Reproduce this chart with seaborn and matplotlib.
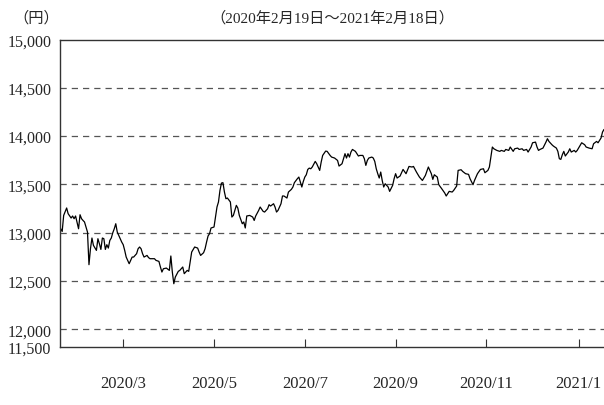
import pandas as pd
import seaborn as sns
import matplotlib.pyplot as plt

# 基準価額の推移 (2020/2/19 - 2021/2/18)
start = pd.Timestamp("2020-02-19")

day_offsets = [
    0, 1, 2, 4, 5, 7, 8, 9, 10, 12, 13, 14, 15, 16, 17, 18, 19, 20, 21, 22,
    24, 25, 26, 27, 28, 29, 30, 31, 32, 33, 34, 35, 36, 37, 38, 40, 41, 42, 43, 44,
    46, 47, 48, 49, 51, 52, 53, 54, 55, 56, 58, 59, 60, 63, 64, 66, 67, 68, 69, 71,
    73, 74, 75, 76, 77, 79, 80, 82, 83, 85, 86, 87, 88, 90, 92, 93, 94, 96, 97, 98,
    99, 100, 101, 103, 104, 105, 106, 107, 108, 109, 110, 111, 112, 114, 115, 116, 117, 118, 119, 120,
    122, 123, 124, 125, 127, 129, 130, 131, 133, 134, 136, 137, 139, 140, 141, 143, 144, 145, 146, 148,
    149, 150, 152, 153, 155, 156, 157, 159, 160, 161, 162, 163, 164, 165, 166, 167, 168, 169, 171, 172,
    173, 174, 175, 176, 178, 179, 181, 182, 184, 186, 187, 189, 190, 191, 192, 193, 194, 195, 196, 198,
    199, 200, 201, 203, 204, 205, 206, 207, 209, 210, 211, 212, 213, 214, 215, 216, 217, 218, 219, 220,
    221, 223, 224, 225, 226, 227, 228, 230, 232, 234, 236, 237, 239, 241, 243, 245, 247, 249, 250, 251,
    253, 254, 256, 258, 259, 261, 263, 264, 266, 267, 269, 270, 272, 274, 275, 277, 278, 280, 282, 284,
    285, 287, 288, 289, 290, 291, 293, 295, 296, 298, 299, 301, 302, 304, 305, 307, 308, 310, 311, 313,
    314, 316, 317, 319, 320, 321, 322, 324, 326, 327, 328, 330, 331, 333, 334, 335, 336, 337, 338, 339,
    341, 342, 343, 345, 346, 347, 349, 350, 352, 353, 355, 357, 358, 360, 361, 363, 364, 365,
]

nav = [
    13041, 13013, 13179, 13256, 13197, 13152, 13173, 13145, 13173, 13041, 13186, 13145, 13127, 13111, 13059, 13007, 12669, 12834, 12945, 12869,
    12817, 12938, 12886, 12827, 12945, 12938, 12827, 12876, 12841, 12920, 12945, 13000, 13041, 13093, 13007, 12938, 12903, 12876, 12817, 12748,
    12679, 12714, 12748, 12748, 12783, 12834, 12852, 12834, 12783, 12748, 12765, 12743, 12731, 12731, 12714, 12703, 12645, 12593, 12627, 12634,
    12610, 12759, 12593, 12472, 12541, 12600, 12610, 12645, 12576, 12610, 12600, 12697, 12800, 12852, 12841, 12800, 12765, 12793, 12834, 12903,
    12966, 12990, 13049, 13059, 13162, 13266, 13318, 13438, 13514, 13518, 13421, 13352, 13359, 13318, 13162, 13179, 13231, 13283, 13255, 13179,
    13093, 13111, 13049, 13173, 13179, 13162, 13127, 13173, 13231, 13266, 13221, 13214, 13248, 13290, 13276, 13300, 13266, 13214, 13231, 13300,
    13380, 13380, 13359, 13421, 13449, 13473, 13518, 13559, 13576, 13525, 13473, 13531, 13576, 13600, 13655, 13669, 13662, 13680, 13738, 13714,
    13680, 13645, 13731, 13800, 13845, 13842, 13800, 13783, 13773, 13748, 13690, 13714, 13766, 13818, 13773, 13818, 13783, 13835, 13862, 13842,
    13818, 13794, 13800, 13800, 13766, 13697, 13748, 13773, 13783, 13773, 13738, 13662, 13611, 13566, 13628, 13541, 13473, 13507, 13490, 13473,
    13428, 13490, 13559, 13611, 13566, 13576, 13587, 13655, 13611, 13686, 13680, 13686, 13628, 13576, 13541, 13593, 13680, 13611, 13552, 13600,
    13576, 13497, 13455, 13411, 13380, 13428, 13421, 13438, 13483, 13645, 13652, 13635, 13611, 13604, 13559, 13497, 13541, 13611, 13655, 13662,
    13621, 13645, 13680, 13783, 13887, 13869, 13852, 13842, 13852, 13842, 13862, 13852, 13887, 13842, 13869, 13876, 13862, 13869, 13852, 13862,
    13835, 13887, 13931, 13938, 13887, 13852, 13862, 13876, 13938, 13973, 13945, 13911, 13897, 13876, 13842, 13766, 13759, 13807, 13842, 13794,
    13835, 13869, 13835, 13852, 13835, 13852, 13904, 13931, 13911, 13887, 13876, 13869, 13921, 13945, 13931, 13980, 14042, 14069,
]

tick_dates = ["2020-04-01", "2020-06-01", "2020-08-01", "2020-10-01", "2020-12-01", "2021-02-01"]
tick_labels = ["2020/3", "2020/5", "2020/7", "2020/9", "2020/11", "2021/1"]

grid_levels = [12000, 12500, 13000, 13500, 14000, 14500]
# the reference has a shortened axis: its bottom label reads 11,500
y_ticks = [11817, 12000, 12500, 13000, 13500, 14000, 14500, 15000]
y_labels = ["11,500", "12,000", "12,500", "13,000", "13,500", "14,000", "14,500", "15,000"]

sns.set_theme(style="white")
plt.rcParams["font.family"] = ["Liberation Serif", "Noto Sans CJK JP"]

df = pd.DataFrame({"date": start + pd.to_timedelta(day_offsets, unit="D"), "nav": nav})

fig = plt.figure(figsize=(6.04, 4.06), dpi=100)
ax = fig.add_axes([59.5 / 604, 1 - 348 / 406, (604 - 59.5) / 604, (348 - 40.5) / 406])

for lv in grid_levels:
    ax.axhline(lv, color="#555555", lw=0.9, ls=(0, (5, 4)), zorder=0)

sns.lineplot(data=df, x="date", y="nav", color="black", lw=0.9, estimator=None, ax=ax)

ax.set_xlim(start - pd.Timedelta(days=0.8), start + pd.Timedelta(days=365))
ax.set_ylim(y_ticks[0], y_ticks[-1])
ax.set_xticks(pd.to_datetime(tick_dates))
ax.set_xticklabels(tick_labels)
ax.set_yticks(y_ticks)
ax.set_yticklabels(y_labels)
ax.set_xlabel("")
ax.set_ylabel("")

ax.tick_params(axis="x", direction="in", length=6, width=0.8, color="#333333",
               pad=20, labelsize=12, bottom=True)
ax.tick_params(axis="y", length=0, pad=6, labelsize=11.5)

for side in ["left", "bottom", "top"]:
    ax.spines[side].set_color("#333333")
    ax.spines[side].set_linewidth(1.0)
ax.spines["right"].set_visible(False)

fig.text(332 / 604, 1 - 18 / 406, "（2020年2月19日～2021年2月18日）",
         ha="center", va="center", fontsize=11)
fig.text(36 / 604, 1 - 18 / 406, "（円）", ha="center", va="center", fontsize=11)

plt.savefig("out.png", dpi=100)
